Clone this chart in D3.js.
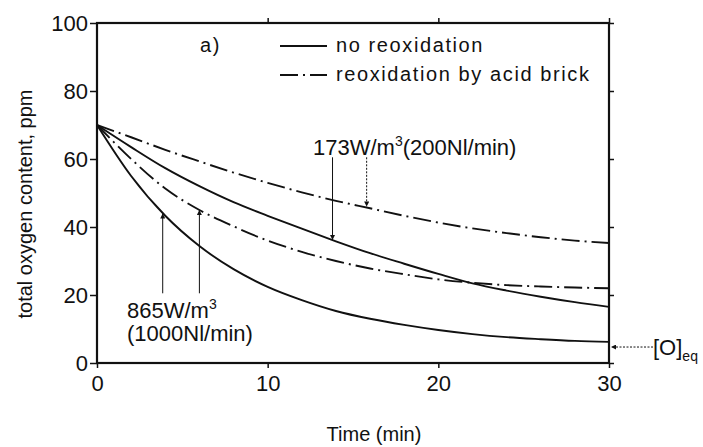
<!DOCTYPE html>
<html>
<head>
<meta charset="utf-8">
<script src="https://cdn.jsdelivr.net/npm/d3@7"></script>
<style>
  html, body { margin: 0; padding: 0; background: #fff; }
  svg { display: block; }
  .tick-label { font-family: "Liberation Sans", Arial, sans-serif; font-size: 22px; fill: #111; }
  .note { font-family: "Liberation Sans", Arial, sans-serif; font-size: 22px; fill: #111; }
  .legend { font-family: "Liberation Sans", Arial, sans-serif; font-size: 20px; letter-spacing: 1.6px; fill: #111; }
  .axis-title { font-family: "Liberation Sans", Arial, sans-serif; font-size: 20px; fill: #111; }
</style>
</head>
<body>
<div id="chart"></div>
<script>
// Datos (tiempo en min, oxígeno total en ppm)
const timeMin = [0, 2, 4, 6, 8, 10, 12, 14, 16, 18, 20, 22, 24, 26, 28, 30];
const o2_865_noReox = [70, 55, 43.3, 34.4, 27.6, 22.4, 18.5, 15.3, 13, 11.2, 9.7, 8.5, 7.6, 7, 6.5, 6.2];
const o2_865_acid = [70, 60, 51.3, 45, 40.2, 36, 32.7, 30, 27.8, 26.1, 24.6, 23.6, 22.9, 22.5, 22.2, 22];
const o2_173_noReox = [70, 63.5, 57.3, 52, 47.3, 43.3, 39.5, 35.8, 32.3, 29.2, 26.2, 23.4, 21.3, 19.5, 17.9, 16.5];
const o2_173_acid = [70, 66.4, 62.7, 59.3, 56, 53, 50.2, 47.7, 45.5, 43.3, 41.3, 39.6, 38.2, 37, 36, 35.3];

const xTicks = [0, 10, 20, 30];
const yTicks = [0, 20, 40, 60, 80, 100];

// Flechas de anotación: t, desde (ppm), hasta (ppm)
const arrows865 = [
	{ t: 3.85, from: 20.5, to: 44 },
	{ t: 6.0, from: 20.5, to: 45 },
];
const arrows173 = [
	{ t: 13.8, from: 60.5, to: 36.2, dotted: false },
	{ t: 15.8, from: 60.5, to: 46, dotted: true },
];
const o2Eq = 4.7;

// Configuración del gráfico
const W = 703;
const H = 447;
const margin = { top: 23, right: 94, bottom: 84, left: 97 };
const width = W - margin.left - margin.right;
const height = H - margin.top - margin.bottom;

const svg = d3
	.select('#chart')
	.append('svg')
	.attr('width', W)
	.attr('height', H);

svg.append('rect').attr('width', W).attr('height', H).attr('fill', '#fff');

const g = svg.append('g').attr('transform', `translate(${margin.left},${margin.top})`);

// Escalas
const x = d3.scaleLinear().domain([0, 30]).range([0, width]);
const y = d3.scaleLinear().domain([0, 100]).range([height, 0]);

// Marcas de flecha
const defs = svg.append('defs');
defs
	.append('marker')
	.attr('id', 'head')
	.attr('viewBox', '0 0 10 10')
	.attr('refX', 10)
	.attr('refY', 5)
	.attr('markerWidth', 9)
	.attr('markerHeight', 5)
	.attr('markerUnits', 'userSpaceOnUse')
	.attr('orient', 'auto')
	.append('path')
	.attr('d', 'M0,0L10,5L0,10Z')
	.attr('fill', '#111');

// Ejes
function styleAxis(sel) {
	sel.select('.domain').remove();
	sel.selectAll('.tick line').attr('stroke', '#111').attr('stroke-width', 1.5);
	sel.selectAll('.tick text').attr('class', 'tick-label').attr('fill', '#111');
}

g.append('g')
	.attr('transform', `translate(0,${height})`)
	.call(d3.axisBottom(x).tickValues(xTicks).tickSize(5).tickPadding(7))
	.call(styleAxis);

g.append('g')
	.call(d3.axisLeft(y).tickValues(yTicks).tickSize(7).tickPadding(2))
	.call(styleAxis);

g.append('g')
	.call(d3.axisTop(x).tickValues(xTicks.slice(1)).tickSize(5).tickFormat(''))
	.call(styleAxis);

g.append('g')
	.attr('transform', `translate(${width},0)`)
	.call(d3.axisRight(y).tickValues(yTicks).tickSize(5).tickFormat(''))
	.call(styleAxis);

// Marco
g.append('rect')
	.attr('width', width)
	.attr('height', height)
	.attr('fill', 'none')
	.attr('stroke', '#111')
	.attr('stroke-width', 2.2);

// Curvas
const line = d3
	.line()
	.x((d, i) => x(timeMin[i]))
	.y((d) => y(d))
	.curve(d3.curveMonotoneX);

const series = [
	{ values: o2_865_noReox, dash: null },
	{ values: o2_865_acid, dash: '18,5,2,5' },
	{ values: o2_173_noReox, dash: null },
	{ values: o2_173_acid, dash: '18,5,2,5' },
];

series.forEach((s) => {
	g.append('path')
		.attr('d', line(s.values))
		.attr('fill', 'none')
		.attr('stroke', '#111')
		.attr('stroke-width', 1.9)
		.attr('stroke-dasharray', s.dash);
});

// Flechas
arrows865.concat(arrows173).forEach((a) => {
	g.append('line')
		.attr('x1', x(a.t))
		.attr('x2', x(a.t))
		.attr('y1', y(a.from))
		.attr('y2', y(a.to))
		.attr('stroke', '#111')
		.attr('stroke-width', 1)
		.attr('stroke-dasharray', a.dotted ? '2,1.5' : null)
		.attr('marker-end', 'url(#head)');
});

// Equilibrio [O]eq
g.append('line')
	.attr('x1', width + 44)
	.attr('x2', width + 2)
	.attr('y1', y(o2Eq))
	.attr('y2', y(o2Eq))
	.attr('stroke', '#111')
	.attr('stroke-width', 1)
	.attr('stroke-dasharray', '2,1.5')
	.attr('marker-end', 'url(#head)');

const eq = g
	.append('text')
	.attr('class', 'note')
	.attr('x', width + 44)
	.attr('y', y(o2Eq) + 8);
eq.append('tspan').text('[O]');
eq.append('tspan').attr('dy', 6).style('font-size', '14px').text('eq');

// Textos de anotación
const t173 = g.append('text').attr('class', 'note').attr('x', 216).attr('y', 132);
t173.append('tspan').text('173W/m');
t173.append('tspan').attr('dy', -9).style('font-size', '14px').text('3');
t173.append('tspan').attr('dy', 9).text('(200Nl/min)');

const t865 = g.append('text').attr('class', 'note').attr('x', 30).attr('y', 295);
t865.append('tspan').text('865W/m');
t865.append('tspan').attr('dy', -9).style('font-size', '14px').text('3');

g.append('text').attr('class', 'note').attr('x', 30).attr('y', 318).text('(1000Nl/min)');

// Leyenda
g.append('text').attr('class', 'legend').attr('x', 103).attr('y', 29).text('a)');

const legendItems = [
	{ label: 'no reoxidation', dash: null },
	{ label: 'reoxidation by acid brick', dash: '18,5,2,5' },
];
legendItems.forEach((d, i) => {
	const yy = 23 + i * 29;
	g.append('line')
		.attr('x1', 183)
		.attr('x2', 230)
		.attr('y1', yy)
		.attr('y2', yy)
		.attr('stroke', '#111')
		.attr('stroke-width', 2)
		.attr('stroke-dasharray', d.dash);
	g.append('text')
		.attr('class', 'legend')
		.attr('x', 239)
		.attr('y', yy + 6)
		.text(d.label);
});

// Títulos de ejes
svg.append('text')
	.attr('class', 'axis-title')
	.attr('transform', 'translate(32,204) rotate(-90)')
	.attr('text-anchor', 'middle')
	.text('total oxygen content, ppm');

svg.append('text')
	.attr('class', 'axis-title')
	.attr('x', 374)
	.attr('y', 441)
	.attr('text-anchor', 'middle')
	.text('Time (min)');
</script>
</body>
</html>
